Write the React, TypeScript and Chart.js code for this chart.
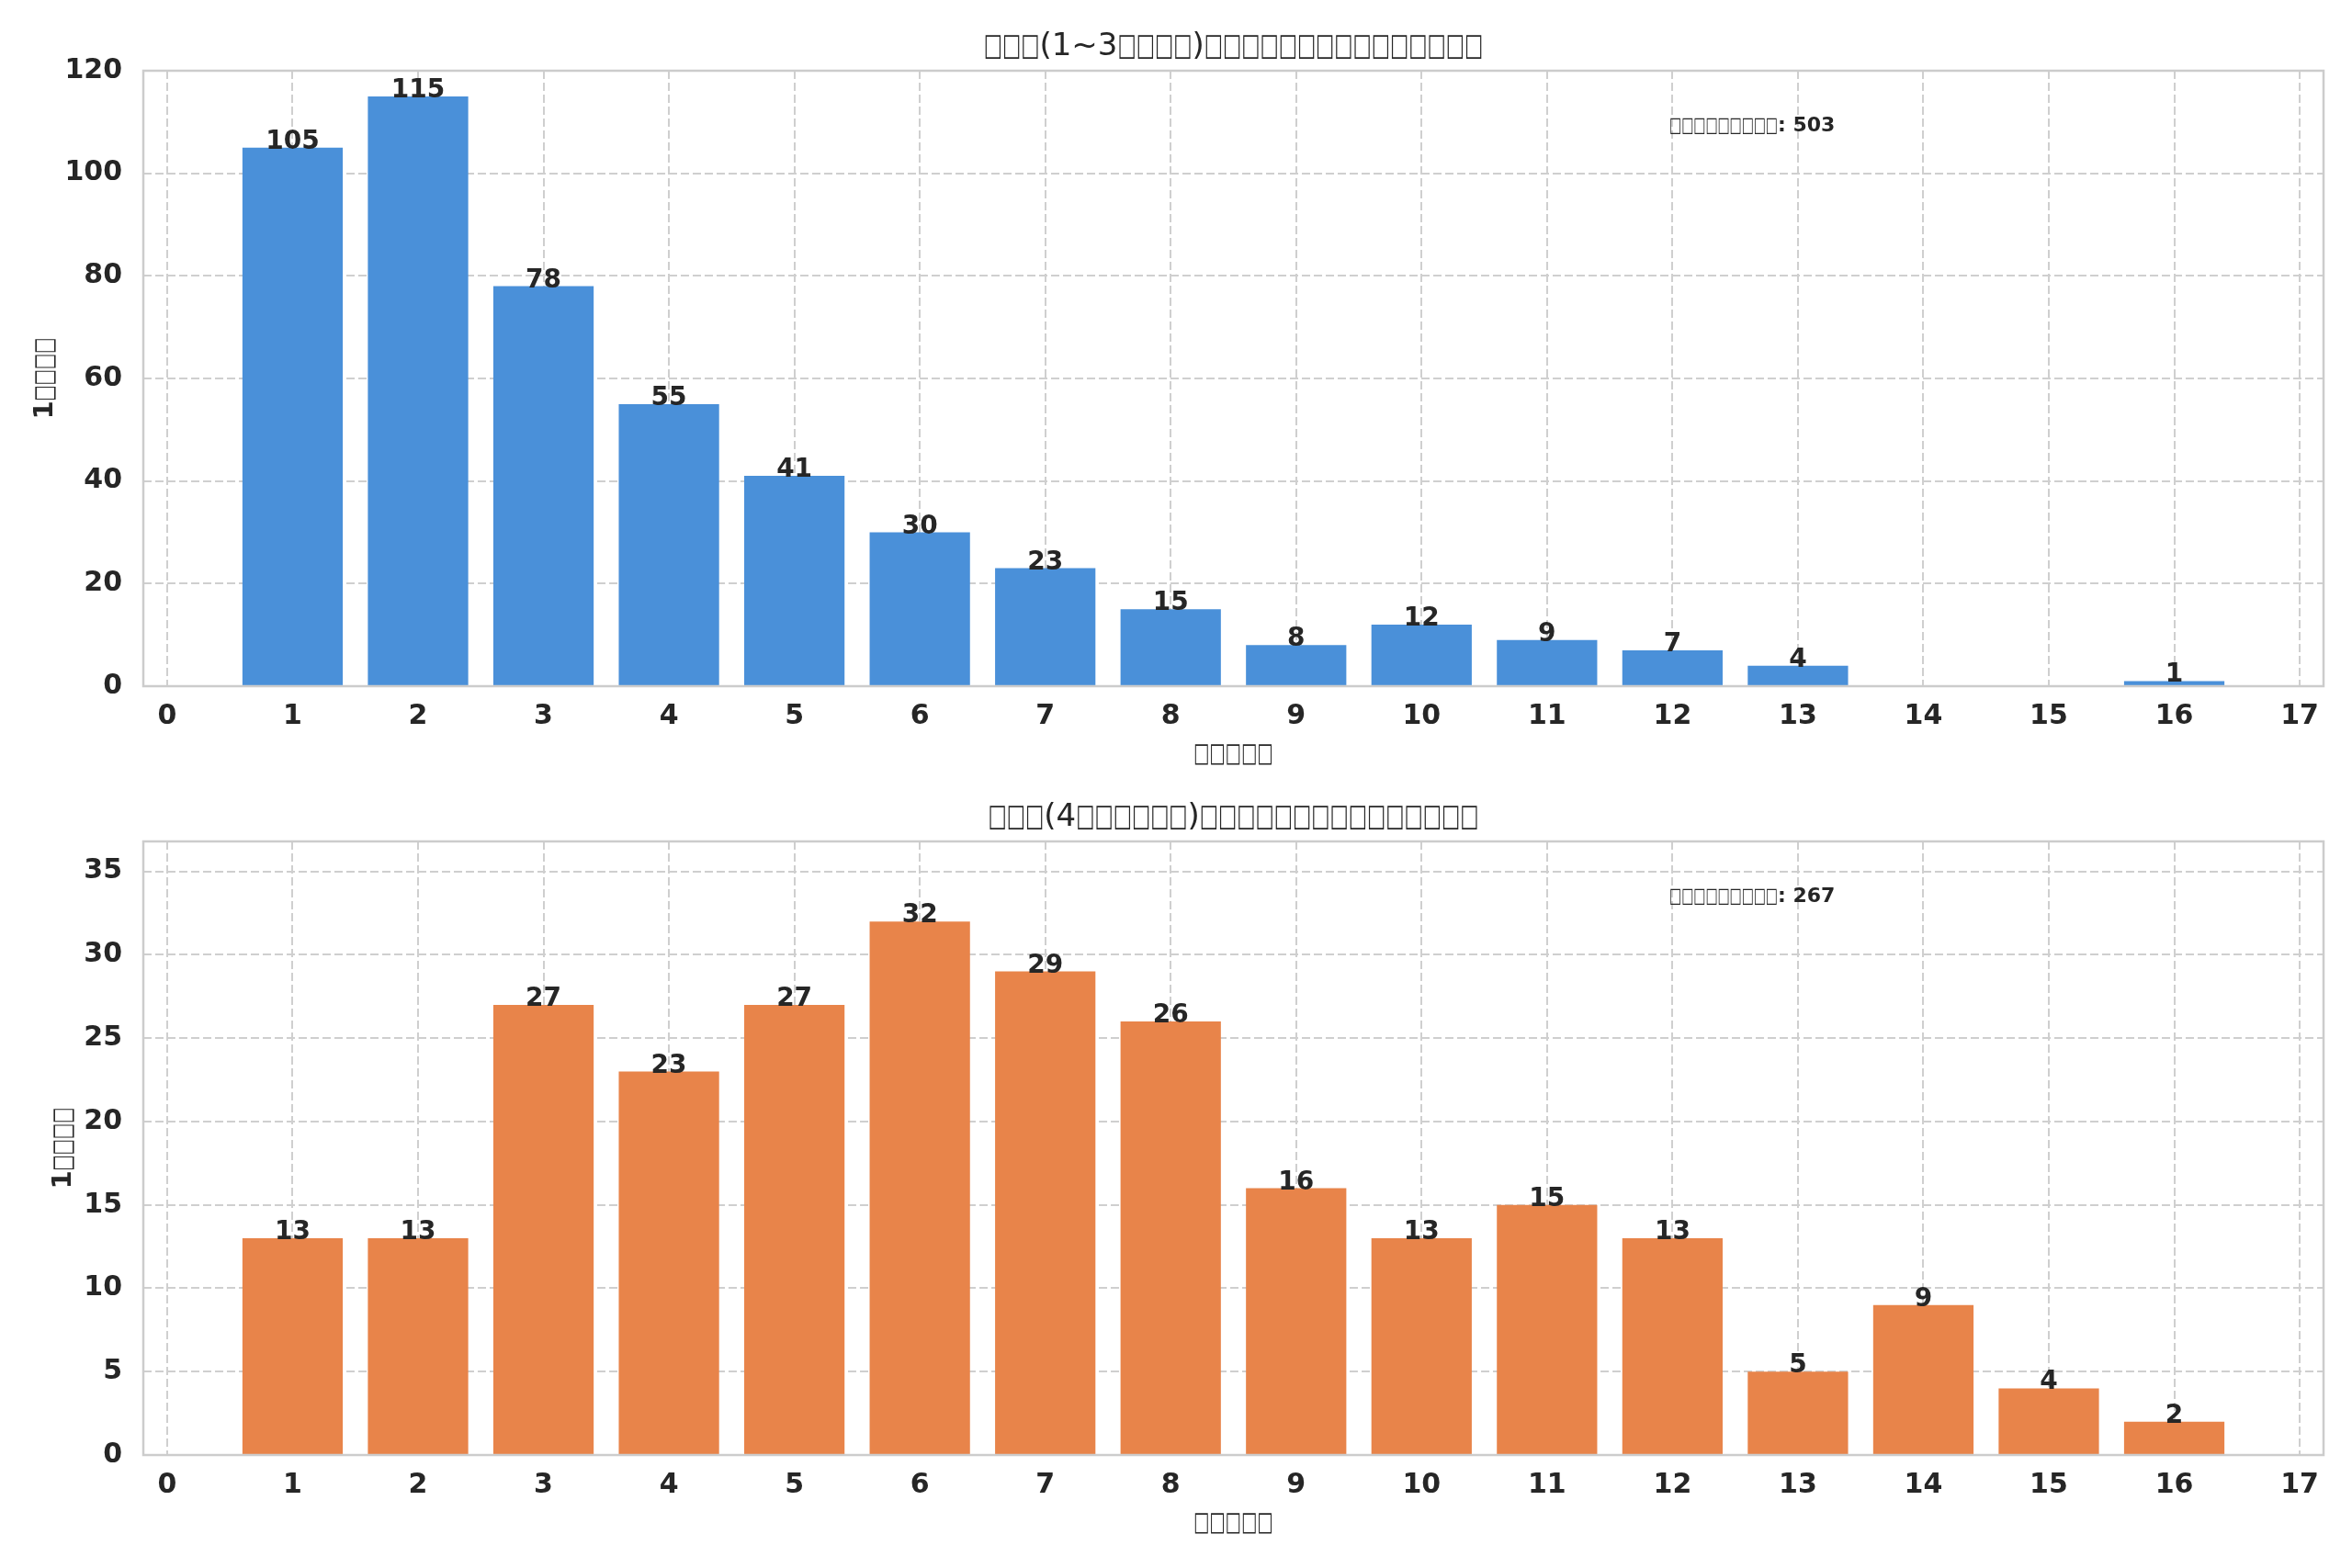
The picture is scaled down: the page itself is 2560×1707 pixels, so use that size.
import { useEffect, useRef } from "react";
import { Chart, registerables } from "chart.js";

Chart.register(...registerables);

const FONT = '"DejaVu Sans", "Noto Sans", sans-serif';
const INK = "#262626";
const GRID = "#cfcfcf";
// the reference shows its labels as missing-glyph boxes, which are narrower than "□"
const BOX_SQUEEZE = 0.63;

const EARLY_TITLE = "□□□(1~3□□□□)□□□□□□□□□□□□□□□";
const LATE_TITLE = "□□□(4□□□□□□)□□□□□□□□□□□□□□□";
const X_LABEL = "□□□□□";
const Y_LABEL = "1□□□□";
const TOTAL_LABEL = "□□□□□□□□□";

// top panel
const EARLY_X = [1, 2, 3, 4, 5, 6, 7, 8, 9, 10, 11, 12, 13, 16];
const EARLY_COUNTS = [105, 115, 78, 55, 41, 30, 23, 15, 8, 12, 9, 7, 4, 1];
const EARLY_Y_TICKS = [0, 20, 40, 60, 80, 100, 120];

// bottom panel
const LATE_X = [1, 2, 3, 4, 5, 6, 7, 8, 9, 10, 11, 12, 13, 14, 15, 16];
const LATE_COUNTS = [13, 13, 27, 23, 27, 32, 29, 26, 16, 13, 15, 13, 5, 9, 4, 2];
const LATE_Y_TICKS = [0, 5, 10, 15, 20, 25, 30, 35];

const X_TICKS = [0, 1, 2, 3, 4, 5, 6, 7, 8, 9, 10, 11, 12, 13, 14, 15, 16, 17];

// text in runs: box runs are squeezed horizontally
function drawMixed(
  ctx: CanvasRenderingContext2D,
  text: string,
  x: number,
  y: number,
  align: "left" | "center",
  style: string
) {
  const runs: { s: string; box: boolean }[] = [];
  for (const ch of text) {
    const box = ch === "□";
    const last = runs[runs.length - 1];
    if (last && last.box === box) last.s += ch;
    else runs.push({ s: ch, box });
  }
  ctx.font = `${style} ${FONT}`;
  ctx.textAlign = "left";
  const widths = runs.map((r) => ctx.measureText(r.s).width * (r.box ? BOX_SQUEEZE : 1));
  const total = widths.reduce((s, w) => s + w, 0);
  let cx = align === "center" ? x - total / 2 : x;
  runs.forEach((r, i) => {
    ctx.save();
    ctx.translate(cx, y);
    if (r.box) ctx.scale(BOX_SQUEEZE, 1);
    ctx.fillText(r.s, 0, 0);
    ctx.restore();
    cx += widths[i];
  });
}

interface PanelProps {
  title: string;
  xs: number[];
  counts: number[];
  yTicks: number[];
  yMax: number;
  color: string;
  top: number;
  height: number;
  padTop: number;
  padBottom: number;
  yTitleX: number;
}

function Panel(p: PanelProps) {
  const canvasRef = useRef<HTMLCanvasElement>(null);

  useEffect(() => {
    if (!canvasRef.current) return;
    const total = p.counts.reduce((s, v) => s + v, 0);

    const overlay = {
      id: "overlay",
      afterDatasetsDraw(chart: Chart) {
        const { ctx, chartArea: a } = chart;
        const midX = (a.left + a.right) / 2;
        ctx.save();
        // frame
        ctx.strokeStyle = "#cccccc";
        ctx.lineWidth = 2.5;
        ctx.strokeRect(a.left, a.top, a.right - a.left, a.bottom - a.top);
        // bar values
        ctx.fillStyle = INK;
        ctx.font = `bold 28px ${FONT}`;
        ctx.textAlign = "center";
        ctx.textBaseline = "alphabetic";
        chart.getDatasetMeta(0).data.forEach((bar: any, i: number) => {
          ctx.fillText(String(p.counts[i]), bar.x, bar.y + 1);
        });
        ctx.textBaseline = "middle";
        // title
        drawMixed(ctx, p.title, midX, a.top - 25.5, "center", "34px");
        // total
        drawMixed(
          ctx,
          `${TOTAL_LABEL}: ${total}`,
          a.left + 0.7 * (a.right - a.left),
          a.top + 0.09 * (a.bottom - a.top),
          "left",
          "bold 22px"
        );
        // axis labels
        drawMixed(ctx, X_LABEL, midX, a.bottom + 74, "center", "bold 29px");
        ctx.save();
        ctx.translate(p.yTitleX, (a.top + a.bottom) / 2);
        ctx.rotate(-Math.PI / 2);
        drawMixed(ctx, Y_LABEL, 0, 0, "center", "bold 29px");
        ctx.restore();
        ctx.restore();
      },
    };

    const chart = new Chart(canvasRef.current, {
      type: "bar",
      data: {
        datasets: [
          {
            data: p.xs.map((x, i) => ({ x, y: p.counts[i] })),
            backgroundColor: p.color,
            borderWidth: 0,
            barPercentage: 0.8,
            categoryPercentage: 1,
          },
        ],
      },
      options: {
        animation: false,
        responsive: false,
        devicePixelRatio: 1,
        layout: { padding: { top: p.padTop, right: 31, bottom: p.padBottom, left: 0 } },
        plugins: { legend: { display: false }, tooltip: { enabled: false } },
        scales: {
          x: {
            type: "linear",
            min: -0.19,
            max: 17.19,
            offset: false,
            afterBuildTicks: (s: any) => {
              s.ticks = X_TICKS.map((v) => ({ value: v }));
            },
            afterFit: (s: any) => {
              s.height = 106;
            },
            grid: { color: GRID, lineWidth: 2, drawTicks: false, offset: false },
            border: { display: false, dash: [9, 4] },
            ticks: {
              color: INK,
              padding: 15,
              autoSkip: false,
              maxRotation: 0,
              font: { family: FONT, size: 30, weight: "bold" },
            },
          },
          y: {
            min: 0,
            max: p.yMax,
            afterBuildTicks: (s: any) => {
              s.ticks = p.yTicks.map((v) => ({ value: v }));
            },
            afterFit: (s: any) => {
              s.width = 156;
            },
            grid: { color: GRID, lineWidth: 2, drawTicks: false },
            border: { display: false, dash: [9, 4] },
            ticks: {
              color: INK,
              padding: 23,
              font: { family: FONT, size: 30, weight: "bold" },
            },
          },
        },
      } as any,
      plugins: [overlay],
    });

    return () => {
      chart.destroy();
    };
  }, []);

  return (
    <canvas
      ref={canvasRef}
      width={2560}
      height={p.height}
      style={{ position: "absolute", left: 0, top: p.top, width: 2560, height: p.height }}
    />
  );
}

export default function App() {
  return (
    <div style={{ position: "absolute", left: 0, top: 0, width: 2560, height: 1707, background: "#ffffff" }}>
      <Panel
        title={EARLY_TITLE}
        xs={EARLY_X}
        counts={EARLY_COUNTS}
        yTicks={EARLY_Y_TICKS}
        yMax={120}
        color="#4a90d9"
        top={0}
        height={853}
        padTop={77}
        padBottom={0}
        yTitleX={49}
      />
      <Panel
        title={LATE_TITLE}
        xs={LATE_X}
        counts={LATE_COUNTS}
        yTicks={LATE_Y_TICKS}
        yMax={36.8}
        color="#e8844a"
        top={853}
        height={854}
        padTop={63}
        padBottom={17}
        yTitleX={69}
      />
    </div>
  );
}
